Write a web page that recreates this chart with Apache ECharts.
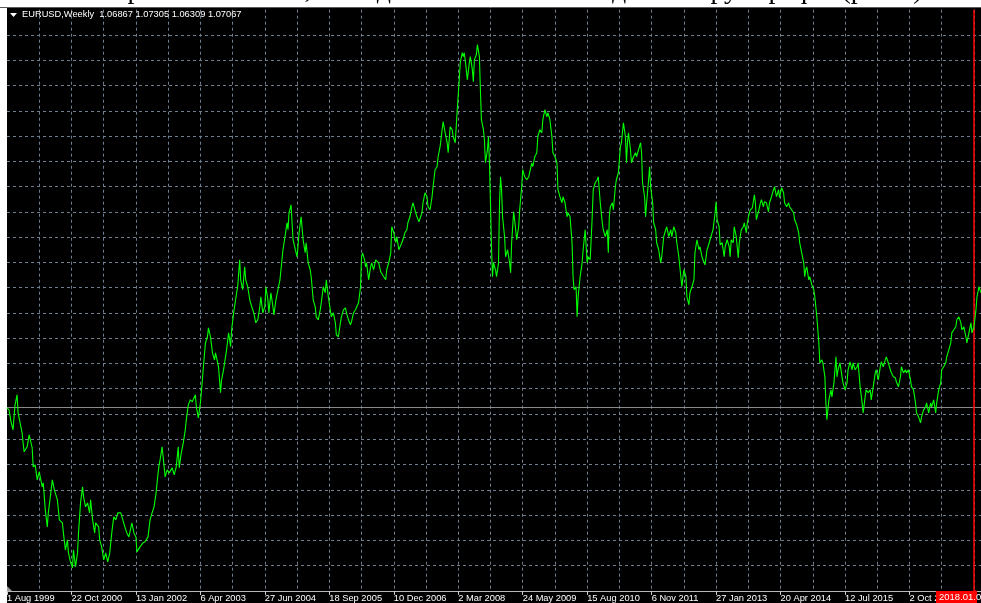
<!DOCTYPE html>
<html>
<head>
<meta charset="utf-8">
<script src="https://cdn.jsdelivr.net/npm/echarts@6/dist/echarts.min.js"></script>
<style>
html,body{margin:0;padding:0;background:#fff;}
#c{width:981px;height:603px;}
</style>
</head>
<body>
<div id="c"></div>
<script>
// Weeks since 1 Aug 1999 (weekly bars) and weekly close of EURUSD
const weeks = [0,2,4,6,7,8,10,11,13,15,16,17,20,22,25,26,28,30,32,35,36,38,40,41,43,45,47,50,52,55,56,58,60,61,63,65,66,68,70,71,73,75,76,78,80,82,83,85,87,88,91,92,94,96,98,100,102,104,106,108,110,113,115,117,119,121,124,126,128,129,132,135,137,140,142,144,146,148,150,151,152,154,156,157,159,161,164,166,168,170,171,173,175,177,178,180,182,184,187,188,190,192,194,
195,197,199,200,202,204,206,207,210,212,213,215,218,220,222,223,225,228,229,231,232,234,236,237,239,241,243,245,247,249,251,252,254,256,257,259,260,262,264,265,267,269,271,273,274,276,278,279,280,282,284,285,287,288,290,292,294,296,297,299,301,302,304,306,307,309,311,312,314,316,317,319,321,322,324,326,327,329,331,332,334,336,337,339,341,342,344,346,347,349,351,352,353,355,356,357,359,361,362,364,366,367,369,371,372,374,376,377,379,381,382,384,386,387,389,390,
392,394,395,397,398,400,402,403,405,407,409,412,413,415,417,418,420,422,423,425,427,428,430,432,433,435,437,438,440,442,443,445,446,447,449,450,452,453,454,456,457,459,460,462,463,464,466,467,469,470,471,473,474,475,477,478,479,480,481,482,483,485,486,488,489,490,491,492,494,495,497,499,500,501,503,504,506,508,509,511,512,514,516,518,521,522,524,526,527,529,531,532,534,536,537,539,541,542,544,546,547,549,551,552,554,556,557,559,561,562,563,565,566,567,569,571,572,574,576,577,579,581,582,584,586,587,589,591,592,594,596,597,598,599,601,602,604,605,607,609,610,612,614,615,616,617,619,620,622,624,625,627,629,630,631,633,634,635,637,638,639,641,642,644,645,647,649,650,652,654,655,657,659,660,662,664,665,667,669,
670,672,674,675,677,678,680,682,683,685,687,688,690,691,693,695,696,698,700,701,703,704,705,707,708,710,712,713,715,717,718,719,721,722,724,726,727,729,731,732,734,735,737,738,740,742,743,744,746,748,749,751,752,754,756,757,759,761,762,764,766,767,769,771,772,774,776,777,779,781,782,784,786,787,789,791,792,793,794,796,797,799,801,802,804,806,807,809,810,812,813,814,816,818,819,821,823,824,825,827,829,830,832,834,835,837,839,840,842,844,845,847,849,850,852,853,855,857,858,860,862,863,865,867,868,870,872,873,875,877,878,880,882,883,885,887,888,890,892,893,895,897,898,900,902,903,905,907,908,910,912,913,915,917,918,920,922,923,925,927,928,930,932,933,935,937,938,940,942,943,945,947,948,950,952,953,955,957,958,960,962,963,965,967];
const closes = [1.0692,1.0663,1.0489,1.0372,1.0561,1.0736,1.0882,1.0619,1.0474,1.0328,1.0183,1.0052,1.0125,1.0299,1.0111,0.9833,0.9862,0.9644,0.9761,0.9542,0.9600,0.9207,0.8960,0.9163,0.9397,0.9644,0.9499,0.9353,0.9062,0.9018,0.8872,0.8625,0.8771,0.8581,0.8450,0.8363,0.8625,0.8378,0.8581,0.8872,0.9309,0.9542,0.9397,0.9251,0.9309,0.9163,0.9353,0.9062,0.8872,0.9018,0.8960,0.8771,0.8669,0.8479,0.8581,0.8450,0.8581,0.8872,0.9105,0.9062,0.9163,0.9163,0.9062,0.8960,0.8872,0.8814,0.9018,0.8872,0.8814,0.8596,0.8669,0.8727,0.8742,0.8814,0.9062,0.9163,0.9251,0.9455,0.9746,0.9862,0.9935,1.0125,0.9833,0.9688,0.9790,0.9746,0.9819,0.9717,0.9833,1.0125,0.9819,1.0037,1.0183,1.0372,1.0518,1.0736,1.0809,1.0780,1.0882,1.0707,1.0547,1.0765,1.1100,
1.1290,1.1639,1.1727,1.1857,1.1727,1.1493,1.1391,1.1493,1.1290,1.0911,1.1100,1.1246,1.1537,1.1784,1.1581,1.1828,1.2075,1.2367,1.2455,1.2847,1.2556,1.2411,1.2745,1.2556,1.2455,1.2265,1.2163,1.2075,1.1930,1.1974,1.2163,1.2309,1.2075,1.2163,1.2455,1.2265,1.2075,1.2367,1.2163,1.2046,1.2265,1.2411,1.2556,1.2847,1.2993,1.3183,1.3386,1.3284,1.3531,1.3648,1.3139,1.3110,1.2949,1.2891,1.3240,1.3473,1.3139,1.2949,1.3095,1.2803,1.2702,1.2600,1.2265,1.2163,1.2017,1.1974,1.2119,1.2221,1.2455,1.2367,1.2556,1.2309,1.2119,1.2017,1.2075,1.1930,1.1755,1.1727,1.1930,1.2017,1.2119,1.2148,1.2075,1.1974,1.1901,1.1945,1.2075,1.2119,1.2090,1.2221,1.2455,1.2891,1.2949,1.2847,1.2745,1.2803,1.2556,1.2745,1.2803,1.2702,1.2847,1.2818,1.2803,1.2673,1.2702,1.2600,1.2556,1.2702,1.2803,1.2949,1.3328,1.3240,1.3095,1.3183,1.2993,1.2964,
1.3095,1.3183,1.3240,1.3284,1.3386,1.3473,1.3619,1.3677,1.3575,1.3473,1.3401,1.3531,1.3677,1.3823,1.3765,1.3619,1.3575,1.3765,1.3910,1.4158,1.4202,1.4347,1.4493,1.4740,1.4857,1.4696,1.4551,1.4405,1.4784,1.4740,1.4638,1.4551,1.4784,1.5031,1.5468,1.5715,1.5861,1.5803,1.5861,1.5614,1.5468,1.5715,1.5803,1.5614,1.5439,1.5759,1.5832,1.5978,1.5803,1.5323,1.4886,1.4740,1.4595,1.4259,1.4449,1.4638,1.4259,1.3677,1.3037,1.2600,1.2803,1.2702,1.2600,1.2803,1.3677,1.4056,1.3867,1.3473,1.3183,1.2891,1.2993,1.2803,1.2658,1.3095,1.3546,1.3430,1.3139,1.3328,1.3575,1.3910,1.4158,1.4056,1.4012,1.4056,1.4259,1.4202,1.4347,1.4405,1.4638,1.4740,1.4696,1.4886,1.5031,1.4929,1.4987,1.4886,1.4638,1.4405,1.4347,1.4259,1.3867,1.3765,1.3677,1.3765,1.3677,1.3473,1.3531,1.3473,1.3095,1.2600,1.2411,1.2455,1.2017,1.2309,1.2600,1.2803,1.2993,1.3284,1.2803,1.2891,1.2847,1.3473,1.3867,1.3968,1.4012,1.4056,1.3677,1.3386,1.3284,1.3183,1.3284,1.2949,1.3473,1.3619,1.3677,1.3575,1.3910,1.4012,1.4114,1.4493,1.4551,1.4842,1.4638,1.4259,1.4551,1.4696,1.4449,1.4259,1.4347,1.4405,1.4347,1.4449,1.4551,1.4405,1.3968,1.3765,1.3473,1.3677,1.4012,1.4202,1.3910,1.3677,1.3386,1.3284,1.3095,1.2993,1.2803,1.2891,1.3183,1.3284,1.3328,1.3183,1.3284,1.3183,1.3328,1.3240,1.3095,1.2891,1.2600,
1.2455,1.2702,1.2600,1.2309,1.2192,1.2367,1.2455,1.2556,1.2949,1.3139,1.2993,1.3037,1.2891,1.2847,1.2774,1.2993,1.3037,1.3139,1.3240,1.3284,1.3531,1.3692,1.3430,1.3328,1.3066,1.3095,1.2891,1.3037,1.3139,1.3037,1.2891,1.3139,1.3095,1.3328,1.3183,1.2876,1.3095,1.3284,1.3328,1.3386,1.3240,1.3386,1.3531,1.3575,1.3604,1.3794,1.3677,1.3430,1.3546,1.3677,1.3721,1.3619,1.3692,1.3677,1.3546,1.3677,1.3765,1.3867,1.3910,1.3765,1.3867,1.3750,1.3896,1.3823,1.3677,1.3619,1.3677,1.3619,1.3575,1.3531,1.3430,1.3357,1.3240,1.3095,1.2949,1.2803,1.2600,1.2702,1.2745,1.2556,1.2600,1.2484,1.2411,1.2309,1.2017,1.1639,1.1347,1.1391,1.1347,1.1144,1.0765,1.0518,1.0809,1.0955,1.0853,1.1056,1.1435,1.1144,1.1246,1.1347,1.1144,1.1056,1.0955,1.1056,1.1246,1.1362,1.1246,1.1347,1.1246,1.1290,1.1347,1.0998,1.0765,1.0619,1.0853,1.0955,1.0911,1.0955,1.0809,1.0998,1.1202,1.1246,1.1100,1.1290,1.1362,1.1290,1.1391,1.1435,1.1347,1.1246,1.1202,1.1144,1.1129,1.1071,1.0998,1.1144,1.1290,1.1202,1.1246,1.1202,1.1246,1.1100,1.0998,1.0955,1.0765,1.0619,1.0561,1.0474,1.0561,1.0663,1.0707,1.0765,1.0619,1.0765,1.0707,1.0809,1.0619,1.0765,1.0955,1.1056,1.1246,1.1290,1.1347,1.1435,1.1537,1.1639,1.1784,1.1828,1.1872,1.1974,1.2017,1.1930,1.1828,1.1872,1.1727,1.1639,1.1784,1.1930,1.1784,1.1872,1.2119,1.2309,1.2455,1.2367];

// Time axis labels (one every 64 weeks)
const tickLabels = ["1 Aug 1999","22 Oct 2000","13 Jan 2002","6 Apr 2003","27 Jun 2004","18 Sep 2005","10 Dec 2006","2 Mar 2008","24 May 2009","15 Aug 2010","6 Nov 2011","27 Jan 2013","20 Apr 2014","12 Jul 2015","2 Oct 2016"];
const headerText = "EURUSD,Weekly  1.06867 1.07305 1.06309 1.07067";
const bidLevel = 1.07067;
const vlineWeek = 960;
const vlineLabel = "2018.01.0";

const seriesData = weeks.map((w, i) => [w, closes[i]]);

const chart = echarts.init(document.getElementById('c'), null, {renderer: 'canvas'});
const gridCol = '#6f7f90';
chart.setOption({
  animation: false,
  backgroundColor: '#ffffff',
  grid: {left: 7, top: 9.7, width: 974, height: 581.2, containLabel: false},
  xAxis: [
    {type: 'value', min: 0, max: 967, interval: 32,
     axisLine: {show: false}, axisTick: {show: false}, axisLabel: {show: false},
     splitLine: {show: true, showMinLine: false, showMaxLine: false,
       lineStyle: {color: gridCol, width: 1, type: [3, 3]}}},
    {type: 'value', min: 0, max: 967, interval: 64, position: 'bottom',
     axisLine: {show: true, lineStyle: {color: '#b8b8b8', width: 1}},
     axisTick: {show: true, length: 4, lineStyle: {color: '#d0d0d0'}},
     splitLine: {show: false},
     axisLabel: {show: true, color: '#ffffff', fontSize: 9.3, fontFamily: 'Liberation Sans',
       align: 'left', margin: 3, showMaxLabel: false,
       formatter: v => (v % 64 === 0 && tickLabels[v / 64]) ? tickLabels[v / 64] : ''}}
  ],
  yAxis: [
    {type: 'value', min: 0.8028, max: 1.6487, show: false, splitLine: {show: false}},
    {type: 'value', min: 0, max: 23, interval: 1,
     axisLine: {show: false}, axisTick: {show: false}, axisLabel: {show: false},
     splitLine: {show: true, showMinLine: false, showMaxLine: false,
       lineStyle: {color: gridCol, width: 1, type: [3, 3]}}}
  ],
  series: [{
    type: 'line', xAxisIndex: 0, yAxisIndex: 0, data: seriesData,
    showSymbol: false, symbol: 'none', silent: true,
    lineStyle: {color: '#00ff00', width: 1.1},
    z: 5,
    markLine: {
      silent: true, symbol: 'none', animation: false,
      label: {show: false},
      data: [
        {yAxis: bidLevel, lineStyle: {color: '#8a8a8a', width: 1, type: 'solid'}},
        {xAxis: vlineWeek, lineStyle: {color: '#ff0000', width: 1.5, type: 'solid'}}
      ]
    }
  }],
  graphic: [
    {type: 'text', z: -200, left: -6, top: -23, silent: true,
     style: {text: 'ним  сам  прогноз.  Із  103,50%  до', font: '28px "Liberation Serif"', fill: '#000'}},
    {type: 'text', z: -200, left: 612, top: -23, silent: true,
     style: {text: 'демонструє графік (рис.3).', font: '28px "Liberation Serif"', fill: '#000'}},
    {type: 'rect', z: -100, silent: true, shape: {x: 7, y: 8, width: 974, height: 595}, style: {fill: '#000000'}},
    {type: 'line', z: -90, silent: true, shape: {x1: 0, y1: 7.5, x2: 981, y2: 7.5}, style: {stroke: '#5a5a5a', lineWidth: 1}},
    {type: 'polygon', z: 50, silent: true, shape: {points: [[10, 13], [17, 13], [13.5, 17]]}, style: {fill: '#ffffff'}},
    {type: 'text', z: 50, silent: true, left: 22, top: 10,
     style: {text: headerText, font: '9.3px "Liberation Sans"', fill: '#ffffff'}},
    {type: 'polygon', z: 50, silent: true, shape: {points: [[7, 586], [7, 591], [12, 591]]}, style: {fill: '#9a9a9a'}},
    {type: 'rect', z: 50, silent: true, shape: {x: 936, y: 591, width: 41, height: 12}, style: {fill: '#ff0000'}},
    {type: 'line', z: 50, silent: true, shape: {x1: 975, y1: 590, x2: 975, y2: 603}, style: {stroke: '#ff0000', lineWidth: 1.5}},
    {type: 'text', z: 51, silent: true, left: 939, top: 592,
     style: {text: vlineLabel, font: '9.5px "Liberation Sans"', fill: '#ffffff'}}
  ]
});
</script>
</body>
</html>
